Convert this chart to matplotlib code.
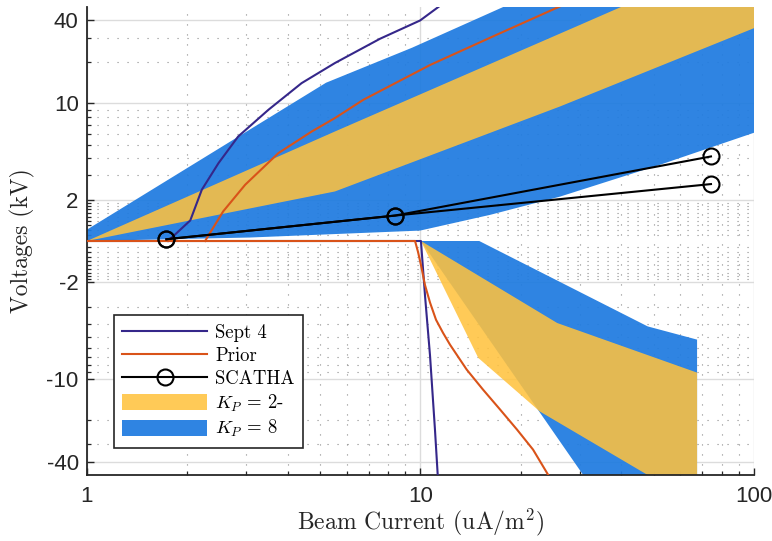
import numpy as np
import matplotlib
matplotlib.use("Agg")
import matplotlib.pyplot as plt
from matplotlib.patches import Patch
from matplotlib.lines import Line2D
from matplotlib.font_manager import FontProperties
from matplotlib.ticker import FixedLocator, NullFormatter

plt.rcParams['mathtext.fontset'] = 'cm'
plt.rcParams['axes.unicode_minus'] = False

# ---- model curves: spacecraft potential (kV) vs beam current (uA/m^2) ----
sept4_pos_current = [1.75, 2.04, 2.21, 2.48, 2.84, 3.50, 4.40, 5.54, 7.56, 9.97, 11.3, 12.5]
sept4_pos_volt = [1.0, 1.41, 2.36, 3.68, 5.74, 8.97, 14.0, 19.6, 29.4, 39.9, 49.9, 60.0]
sept4_neg_current = [1.0, 10.03, 10.32, 10.68, 11.05, 11.26, 11.4]
sept4_neg_volt = [0.0, -1.0, -2.52, -6.8, -23.4, -49.6, -70.0]

prior_pos_current = [2.26, 2.56, 2.98, 3.75, 4.72, 5.54, 6.74, 10.7, 16.9, 25.9, 30.0]
prior_pos_volt = [1.0, 1.64, 2.56, 4.35, 6.24, 7.81, 10.6, 19.0, 31.4, 49.9, 58.0]
prior_neg_current = [1.0, 9.63, 9.83, 10.03, 10.31, 10.68, 11.13, 11.68, 12.26,
                     13.76, 15.40, 17.31, 19.47, 21.75, 24.12, 25.3]
prior_neg_volt = [0.0, -1.0, -1.20, -1.49, -2.08, -2.80, -3.73, -4.64, -5.66,
                  -8.59, -12.0, -16.7, -23.4, -32.7, -49.7, -58.0]

# ---- SCATHA observations ----
scatha_current = [1.73, 8.39, 74.3]
scatha_volt_a = [1.03, 1.53, 4.11]
scatha_volt_b = [1.03, 1.53, 2.59]

# ---- Kp = 8 envelope ----
kp8_pos_upper_current = [1.0, 5.21, 9.43, 17.7, 100.0]
kp8_pos_upper_volt = [1.21, 14.1, 25.3, 50.0, 330.0]
kp8_pos_lower_current = [1.0, 3.08, 9.97, 16.2, 26.2, 52.3, 100.0]
kp8_pos_lower_volt = [1.0, 1.06, 1.19, 1.55, 2.10, 3.58, 6.11]
kp8_neg_current = [10.03, 15.0, 48.0, 67.5, 67.5, 37.5]
kp8_neg_volt = [-1.0, -1.0, -4.17, -5.2, -100.0, -100.0]

# ---- Kp = 2- envelope ----
kp2_pos_upper_current = [1.0, 5.54, 30.1, 100.0]
kp2_pos_upper_volt = [1.0, 6.24, 37.1, 132.0]
kp2_pos_lower_current = [1.0, 5.54, 26.2, 100.0]
kp2_pos_lower_volt = [1.0, 2.29, 9.48, 35.1]
kp2_neg_current = [10.03, 25.7, 67.5, 67.5, 47.8, 22.8, 14.9]
kp2_neg_volt = [-1.0, -3.94, -9.03, -81.0, -49.7, -17.3, -7.06]

# axis ticks
major_tick_volts = [-40, -10, -2, 2, 10, 40]
major_tick_labels = ['-40', '-10', '-2', '2', '10', '40']
minor_tick_volts = [1.1, 1.2, 1.3, 1.4, 1.5, 1.6, 1.7, 1.8, 1.9,
                    3, 4, 5, 6, 7, 8, 9, 20, 30]
x_major = [1, 10, 100]
x_labels = ['1', '10', '100']
v_limit = 50.0

blue = '#1F7BE0'
yellow = '#FFC23E'
purple = '#35278A'
orange = '#D95319'
axis_gray = '#262626'


def signed_log(v):
    v = np.asarray(v, dtype=float)
    return np.sign(v) * np.log10(np.maximum(np.abs(v), 1.0))


def band(xu, vu, xl, vl):
    xs = list(xu) + list(xl)[::-1]
    vs = list(vu) + list(vl)[::-1]
    return xs, signed_log(vs)


fig = plt.figure(figsize=(7.72, 5.41), dpi=100)
ax = fig.add_axes([87 / 772, 1 - 475 / 541, (754 - 87) / 772, (475 - 7) / 541])
ax.set_xscale('log')

# envelopes
xs, ys = band(kp8_pos_upper_current, kp8_pos_upper_volt,
              kp8_pos_lower_current, kp8_pos_lower_volt)
ax.fill(xs, ys, color=blue, lw=0, alpha=0.93, zorder=1)
ax.fill(kp8_neg_current, signed_log(kp8_neg_volt), color=blue, lw=0, alpha=0.93, zorder=1)
xs, ys = band(kp2_pos_upper_current, kp2_pos_upper_volt,
              kp2_pos_lower_current, kp2_pos_lower_volt)
ax.fill(xs, ys, color=yellow, lw=0, alpha=0.87, zorder=1.1)
ax.fill(kp2_neg_current, signed_log(kp2_neg_volt), color=yellow, lw=0, alpha=0.87, zorder=1.1)

# model curves
ax.plot(sept4_pos_current, signed_log(sept4_pos_volt), color=purple, lw=1.5, zorder=3)
ax.plot(sept4_neg_current, signed_log(sept4_neg_volt), color=purple, lw=1.5, zorder=3)
ax.plot(prior_pos_current, signed_log(prior_pos_volt), color=orange, lw=1.5, zorder=3.1)
ax.plot(prior_neg_current, signed_log(prior_neg_volt), color=orange, lw=1.5, zorder=3.1)

for sv in (scatha_volt_a, scatha_volt_b):
    ax.plot(scatha_current, signed_log(sv), color='k', lw=1.5, marker='o',
            mfc='none', ms=11.5, mew=1.5, zorder=4)

ax.set_xlim(1, 100)
lim = np.log10(v_limit)
ax.set_ylim(-lim, lim)

ax.set_yticks(signed_log(major_tick_volts))
ax.set_yticklabels(major_tick_labels)
minor_pos = np.concatenate([signed_log(minor_tick_volts), -signed_log(minor_tick_volts)])
ax.yaxis.set_minor_locator(FixedLocator(np.sort(minor_pos)))
ax.yaxis.set_minor_formatter(NullFormatter())
ax.set_xticks(x_major)
ax.set_xticklabels(x_labels)
ax.xaxis.set_minor_formatter(NullFormatter())

tick_font = 'Liberation Sans'
for lab in ax.get_xticklabels() + ax.get_yticklabels():
    lab.set_fontfamily(tick_font)
    lab.set_fontsize(16)
    lab.set_color(axis_gray)

ax.tick_params(which='major', direction='in', length=5, width=1.0, color=axis_gray,
               top=False, right=False)
ax.tick_params(which='minor', direction='in', length=3, width=0.9, color=axis_gray,
               top=False, right=False)
ax.tick_params(axis='x', which='major', pad=8)
ax.tick_params(axis='y', which='major', pad=6)

for side in ('top', 'right'):
    ax.spines[side].set_visible(False)
for side in ('left', 'bottom'):
    ax.spines[side].set_color(axis_gray)
    ax.spines[side].set_linewidth(1.3)

ax.set_axisbelow(True)
ax.grid(True, which='major', color='#DCDCDC', lw=1.0, ls='-')
ax.grid(True, which='minor', color='#8C8C8C', lw=0.8, ls=(0, (1, 8)))

label_font = FontProperties(family='cmr10', size=17)
ax.set_xlabel('Beam Current (uA/m$^2$)', fontproperties=label_font, color=axis_gray, labelpad=0)
ax.set_ylabel('Voltages (kV)', fontproperties=label_font, color=axis_gray, labelpad=8)

handles = [
    Line2D([], [], color=purple, lw=1.5),
    Line2D([], [], color=orange, lw=1.5),
    Line2D([], [], color='k', lw=1.5, marker='o', mfc='none', ms=11.5, mew=1.5),
    Patch(facecolor=yellow, alpha=0.87, edgecolor='none'),
    Patch(facecolor=blue, alpha=0.93, edgecolor='none'),
]
labels = ['Sept 4', 'Prior', 'SCATHA', r'$K_P$ = 2-', r'$K_P$ = 8']
leg = ax.legend(handles, labels, loc='lower left', bbox_to_anchor=(0.0405, 0.058),
                prop=FontProperties(family='cmr10', size=13.5), frameon=True,
                fancybox=False, framealpha=1, edgecolor=axis_gray,
                handlelength=4.5, handleheight=0.9, handletextpad=0.45,
                labelspacing=0.25, borderpad=0.45, borderaxespad=0)
leg.get_frame().set_linewidth(1.2)
leg.set_zorder(10)

fig.savefig('out.png', dpi=100)
